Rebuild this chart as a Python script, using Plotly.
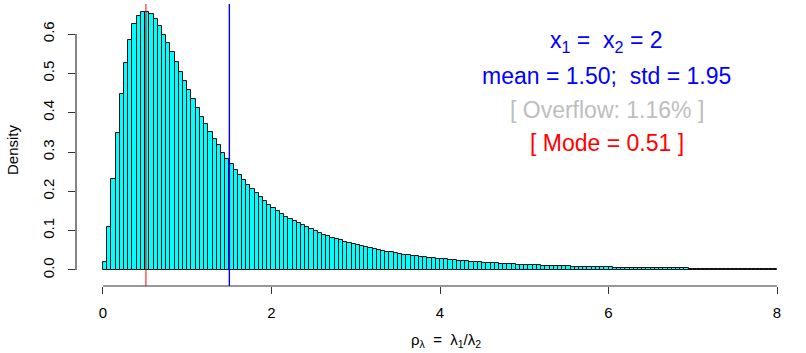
import numpy as np
import plotly.graph_objects as go

# ---- data ----
bin_start = 0.0
bin_width = 0.05
density = [
    0.020, 0.110, 0.231, 0.349, 0.447, 0.526, 0.584, 0.625, 0.647, 0.657,
    0.657, 0.650, 0.638, 0.621, 0.597, 0.576, 0.553, 0.530, 0.504, 0.481,
    0.457, 0.434, 0.411, 0.390, 0.371, 0.352, 0.333, 0.317, 0.298, 0.283,
    0.270, 0.254, 0.242, 0.229, 0.216, 0.205, 0.195, 0.185, 0.175, 0.166,
    0.158, 0.150, 0.142, 0.135, 0.129, 0.124, 0.119, 0.114, 0.109, 0.104,
    0.099, 0.094, 0.090, 0.086, 0.082, 0.079, 0.075, 0.072, 0.069, 0.067,
    0.064, 0.061, 0.058, 0.056, 0.054, 0.051, 0.049, 0.047, 0.045, 0.043,
    0.041, 0.039, 0.037, 0.036, 0.035, 0.033, 0.032, 0.031, 0.030, 0.029,
    0.028, 0.027, 0.026, 0.025, 0.024, 0.023, 0.022, 0.021, 0.0205, 0.0197,
    0.0190, 0.0183, 0.0176, 0.0169, 0.0162, 0.0156, 0.0150, 0.0144, 0.0138, 0.0133,
    0.0128, 0.0123, 0.0119, 0.0115, 0.0111, 0.0107, 0.0103, 0.0099, 0.0096, 0.0093,
    0.0090, 0.0087, 0.0084, 0.0081, 0.0078, 0.0076, 0.0074, 0.0071, 0.0069, 0.0067,
    0.0065, 0.0063, 0.0061, 0.0059, 0.0058, 0.0056, 0.0054, 0.0053, 0.0051, 0.0050,
    0.0048, 0.0047, 0.0046, 0.0044, 0.0043, 0.0042, 0.0041, 0.0040, 0.0039, 0.0038,
    0.0037, 0.0036, 0.0035, 0.0034, 0.0033, 0.0033, 0.0032, 0.0031, 0.0030, 0.0030,
    0.0029, 0.0028, 0.0028, 0.0027, 0.0026, 0.0026, 0.0025, 0.0025, 0.0024, 0.0024,
]
mode_value = 0.51
mean_value = 1.50
std_value = 1.95
overflow_pct = 1.16
x_ticks = [0, 2, 4, 6, 8]
y_ticks = [0.0, 0.1, 0.2, 0.3, 0.4, 0.5, 0.6]
y_tick_labels = ["0.0", "0.1", "0.2", "0.3", "0.4", "0.5", "0.6"]

centers = bin_start + bin_width * (np.arange(len(density)) + 0.5)

FONT = "Liberation Sans, Arial, Helvetica, sans-serif"

fig = go.Figure()
fig.add_trace(go.Bar(
    x=centers, y=density, width=bin_width,
    marker=dict(color="#00FFFF", line=dict(color="#111111", width=1)),
    showlegend=False, hoverinfo="skip",
))

# mode / mean vertical lines
fig.add_shape(type="line", xref="x", yref="paper", x0=mode_value, x1=mode_value,
              y0=0, y1=1, line=dict(color="#FF0000", width=1))
fig.add_shape(type="line", xref="x", yref="paper", x0=mean_value, x1=mean_value,
              y0=0, y1=1, line=dict(color="#0000FF", width=1.4))

# R-style axis lines spanning only the tick range
fig.add_shape(type="line", xref="x", yref="paper", x0=x_ticks[0], x1=x_ticks[-1],
              y0=0, y1=0, line=dict(color="#333333", width=1.2))
fig.add_shape(type="line", xref="paper", yref="y", x0=0, x1=0,
              y0=y_ticks[0], y1=y_ticks[-1], line=dict(color="#333333", width=1.2))

tx = 5.98
anns = [
    ("x<sub>1</sub> =  x<sub>2</sub> = 2", 0.580, "#0000FF"),
    (f"mean = {mean_value:.2f};  std = {std_value:.2f}", 0.492, "#0000FF"),
    (f"[ Overflow: {overflow_pct:.2f}% ]", 0.407, "#BEBEBE"),
    (f"[ Mode = {mode_value:.2f} ]", 0.322, "#FF0000"),
]
for text, yy, col in anns:
    fig.add_annotation(x=tx, y=yy, xref="x", yref="y", text=text, showarrow=False,
                       font=dict(family=FONT, size=23, color=col),
                       xanchor="center", yanchor="middle")

# axis titles
PW, PH = 728, 282
fig.add_annotation(x=(12 - 76) / PW, y=(286 - 150) / PH, xref="paper", yref="paper",
                   text="Density", showarrow=False, textangle=-90,
                   font=dict(family=FONT, size=15, color="#000000"),
                   xanchor="center", yanchor="middle")
fig.add_annotation(x=(446 - 76) / PW, y=-(340 - 286) / PH, xref="paper", yref="paper",
                   text="ρ<sub>λ</sub>  =  λ<sub>1</sub>/λ<sub>2</sub>", showarrow=False,
                   font=dict(family=FONT, size=15, color="#000000"),
                   xanchor="center", yanchor="middle")

fig.update_layout(
    width=806, height=353,
    margin=dict(l=76, r=2, t=4, b=67, autoexpand=False),
    paper_bgcolor="white", plot_bgcolor="white",
    bargap=0,
    font=dict(family=FONT, size=15, color="#000000"),
    xaxis=dict(range=[-0.32, 8.32], tickvals=x_ticks, ticktext=[str(v) for v in x_ticks],
               ticks="outside", ticklen=7, tickcolor="#333333", showgrid=False,
               zeroline=False, showline=False, automargin=False,
               ticklabelstandoff=6,
               tickfont=dict(family=FONT, size=15)),
    yaxis=dict(range=[-0.0407, 0.6763], tickvals=y_ticks, ticktext=y_tick_labels,
               ticks="outside", ticklen=7, tickcolor="#333333", showgrid=False,
               zeroline=False, showline=False, tickangle=-90, automargin=False,
               ticklabelstandoff=8,
               tickfont=dict(family=FONT, size=15)),
)

fig.write_html("out.html",
               config={"displayModeBar": False},
               post_script="document.body.style.margin='0';document.body.style.overflow='hidden';")
